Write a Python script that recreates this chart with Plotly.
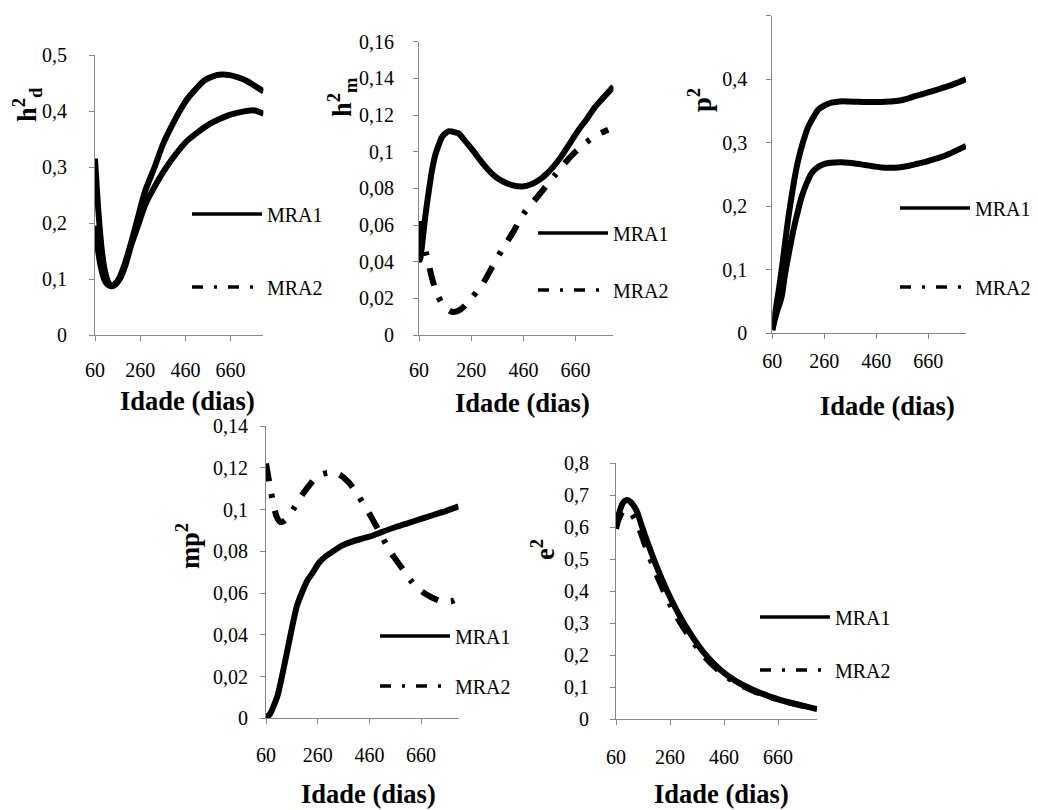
import plotly.graph_objects as go

W, H = 1038, 810
OFF = 8  # page body margin offset (px) compensated in the placement

# ---------------- data ----------------
x_ticks = [60, 260, 460, 660]
x_tick_text = ["60", "260", "460", "660"]

# Panel 1: h2d
h2d_mra1_x = [60, 72, 85, 100, 115, 130, 145, 165, 190, 220, 250, 280, 324, 360, 398, 435, 471, 508, 545, 582, 619, 656, 693, 730, 766, 806]
h2d_mra1_y = [0.195, 0.155, 0.123, 0.100, 0.090, 0.087, 0.090, 0.100, 0.125, 0.165, 0.210, 0.255, 0.300, 0.340, 0.372, 0.400, 0.423, 0.440, 0.455, 0.462, 0.465, 0.464, 0.460, 0.454, 0.445, 0.435]
h2d_mra2_x = [60, 70, 80, 92, 105, 120, 135, 150, 170, 195, 220, 250, 285, 324, 360, 398, 435, 471, 508, 545, 582, 619, 656, 693, 730, 766, 806]
h2d_mra2_y = [0.315, 0.250, 0.195, 0.145, 0.112, 0.093, 0.087, 0.090, 0.100, 0.125, 0.160, 0.195, 0.235, 0.265, 0.290, 0.3125, 0.332, 0.348, 0.360, 0.371, 0.380, 0.387, 0.393, 0.397, 0.400, 0.401, 0.395]

# Panel 2: h2m
h2m_mra1_x = [60, 62, 64, 70, 84, 97, 110, 122, 135, 148, 161, 174, 186, 199, 212, 230, 250, 270, 289, 320, 352, 384, 416, 455, 493, 520, 544, 576, 608, 640, 672, 704, 735, 767, 805]
h2m_mra1_y = [0.062, 0.045, 0.041, 0.047, 0.0645, 0.078, 0.090, 0.098, 0.1036, 0.108, 0.110, 0.1112, 0.111, 0.1105, 0.110, 0.107, 0.1036, 0.100, 0.0964, 0.091, 0.0864, 0.0836, 0.0818, 0.081, 0.0824, 0.0845, 0.0873, 0.092, 0.098, 0.105, 0.112, 0.118, 0.1245, 0.1295, 0.1355]
h2m_mra2_x = [60, 75, 90, 110, 130, 160, 190, 220, 260, 300, 340, 380, 420, 460, 500, 540, 580, 620, 660, 700, 740, 785]
h2m_mra2_y = [0.062, 0.051, 0.043, 0.031, 0.022, 0.015, 0.0125, 0.014, 0.020, 0.027, 0.037, 0.047, 0.056, 0.066, 0.073, 0.080, 0.087, 0.094, 0.100, 0.105, 0.109, 0.112]

# Panel 3: p2
p2_mra1_x = [60, 70, 83, 96, 109, 121, 134, 147, 160, 179, 198, 218, 237, 262, 288, 320, 352, 384, 416, 448, 480, 512, 545, 577, 609, 641, 673, 705, 737, 769, 805]
p2_mra1_y = [0.005, 0.030, 0.063, 0.100, 0.142, 0.180, 0.215, 0.247, 0.273, 0.302, 0.325, 0.340, 0.352, 0.359, 0.363, 0.365, 0.365, 0.3645, 0.364, 0.364, 0.364, 0.3648, 0.366, 0.369, 0.3735, 0.377, 0.381, 0.385, 0.389, 0.394, 0.400]
p2_mra2_x = [60, 75, 96, 108, 121, 134, 147, 160, 173, 192, 211, 230, 250, 275, 301, 326, 352, 384, 416, 448, 480, 512, 545, 577, 609, 641, 673, 705, 737, 769, 805]
p2_mra2_y = [0.005, 0.030, 0.058, 0.090, 0.120, 0.148, 0.173, 0.195, 0.215, 0.236, 0.252, 0.260, 0.265, 0.268, 0.269, 0.2692, 0.2686, 0.267, 0.265, 0.263, 0.261, 0.2605, 0.261, 0.263, 0.266, 0.269, 0.273, 0.277, 0.282, 0.288, 0.295]

# Panel 4: mp2
mp2_mra1_x = [60, 75, 90, 105, 120, 135, 150, 165, 180, 200, 220, 242, 265, 290, 320, 350, 390, 430, 460, 510, 560, 610, 660, 710, 760, 805]
mp2_mra1_y = [0.0003, 0.002, 0.006, 0.011, 0.019, 0.028, 0.037, 0.046, 0.054, 0.0605, 0.066, 0.070, 0.0745, 0.0775, 0.080, 0.0825, 0.0845, 0.086, 0.087, 0.0893, 0.0915, 0.0935, 0.0955, 0.0975, 0.0995, 0.1015]
mp2_mra2_x = [60, 70, 80, 90, 100, 115, 130, 150, 170, 200, 230, 260, 300, 340, 380, 420, 460, 500, 540, 580, 620, 660, 700, 740, 780, 795]
mp2_mra2_y = [0.122, 0.115, 0.108, 0.102, 0.097, 0.094, 0.0945, 0.097, 0.101, 0.107, 0.112, 0.116, 0.1175, 0.117, 0.113, 0.106, 0.098, 0.089, 0.080, 0.073, 0.066, 0.061, 0.058, 0.056, 0.0562, 0.057]

# Panel 5: e2
e2_mra1_x = [60, 70, 85, 100, 115, 137, 155, 174, 211, 248, 285, 322, 383, 445, 507, 569, 630, 692, 754, 805]
e2_mra1_y = [0.600, 0.640, 0.675, 0.685, 0.678, 0.650, 0.605, 0.559, 0.476, 0.403, 0.340, 0.285, 0.210, 0.155, 0.117, 0.091, 0.070, 0.054, 0.041, 0.031]
e2_mra2_x = [60, 70, 85, 100, 115, 137, 155, 174, 211, 248, 285, 322, 383, 445, 507, 569, 630, 692, 754, 805]
e2_mra2_y = [0.595, 0.625, 0.650, 0.655, 0.645, 0.615, 0.575, 0.530, 0.450, 0.380, 0.320, 0.270, 0.200, 0.148, 0.112, 0.088, 0.069, 0.054, 0.041, 0.031]

series_names = ["MRA1", "MRA2"]

panel_y_ticks = [
    [0, 0.1, 0.2, 0.3, 0.4, 0.5],
    [0, 0.02, 0.04, 0.06, 0.08, 0.1, 0.12, 0.14, 0.16],
    [0, 0.1, 0.2, 0.3, 0.4, 0.5],
    [0, 0.02, 0.04, 0.06, 0.08, 0.1, 0.12, 0.14],
    [0, 0.1, 0.2, 0.3, 0.4, 0.5, 0.6, 0.7, 0.8],
]
panel_y_text = [
    ["0", "0,1", "0,2", "0,3", "0,4", "0,5"],
    ["0", "0,02", "0,04", "0,06", "0,08", "0,1", "0,12", "0,14", "0,16"],
    ["0", "0,1", "0,2", "0,3", "0,4", "0,5"],
    ["0", "0,02", "0,04", "0,06", "0,08", "0,1", "0,12", "0,14"],
    ["0", "0,1", "0,2", "0,3", "0,4", "0,5", "0,6", "0,7", "0,8"],
]
y_titles = ["h<sup>2</sup><sub>d</sub>", "h<sup>2</sup><sub>m</sub>", "p<sup>2</sup>", "mp<sup>2</sup>", "e<sup>2</sup>"]
x_title = "Idade (dias)"

# ---------------- layout geometry (screen pixels) ----------------
X_MAX = 805
panels = [
    dict(x0=95, step=45.2, yb=335, yt=55, top=0.5),
    dict(x0=419, step=52.2, yb=335, yt=41.7, top=0.16),
    dict(x0=772.3, step=52.0, yb=333.3, yt=15.7, top=0.5),
    dict(x0=266, step=51.7, yb=718.3, yt=426, top=0.14),
    dict(x0=616, step=54.0, yb=719, yt=463.3, top=0.8),
]
y_standoff = [18, 15, 15, 8, 17]
x_standoff = [12, 12, 5, 14, 15]
ytitle_pos = [(27, 105), (342, 97), (700, 100), (188, 546), (543, 550)]
xtitle_pos = [(187, 401), (522, 403), (887, 406), (368, 794), (721, 794)]
legend_pos = [  # line start x, first item y, second item y
    (192, 214, 287),
    (538, 233, 290),
    (900, 208, 287),
    (380, 636, 686),
    (760, 617, 670),
]


def fx(px):
    return (px - OFF) / W


def fy(py):
    return 1 - (py - OFF) / H


FONT = "Liberation Serif"
AX_COLOR = "#868686"
DATA_W = 6
DATA_DASH = "18px,13px,4px,13px"
LEG_DASH = "11px,11px,3px,11px"

data = [
    (h2d_mra1_x, h2d_mra1_y, h2d_mra2_x, h2d_mra2_y, "solid"),
    (h2m_mra1_x, h2m_mra1_y, h2m_mra2_x, h2m_mra2_y, DATA_DASH),
    (p2_mra1_x, p2_mra1_y, p2_mra2_x, p2_mra2_y, "solid"),
    (mp2_mra1_x, mp2_mra1_y, mp2_mra2_x, mp2_mra2_y, DATA_DASH),
    (e2_mra1_x, e2_mra1_y, e2_mra2_x, e2_mra2_y, DATA_DASH),
]

fig = go.Figure()
layout = dict(
    width=W, height=H, autosize=False,
    margin=dict(l=0, r=0, t=0, b=0, pad=0, autoexpand=False),
    paper_bgcolor="white", plot_bgcolor="white",
    font=dict(family=FONT, size=20, color="black"),
    annotations=[],
)

for i, p in enumerate(panels):
    n = i + 1
    sx = "" if n == 1 else str(n)
    xname, yname = "x" + sx, "y" + sx
    x1 = p["x0"] + (X_MAX - 60) / 200 * p["step"]
    xdom = [fx(p["x0"]), fx(x1)]
    ydom = [fy(p["yb"]), fy(p["yt"])]
    common = dict(showline=True, linecolor=AX_COLOR, linewidth=1,
                  ticks="outside", ticklen=5, tickcolor=AX_COLOR, tickwidth=1,
                  showgrid=False, zeroline=False, fixedrange=True, automargin=False,
                  tickfont=dict(family=FONT, size=20, color="black"))
    layout["xaxis" + sx] = dict(domain=xdom, anchor=yname, range=[60, X_MAX],
                                tickvals=x_ticks, ticktext=x_tick_text,
                                ticklabelstandoff=x_standoff[i], **common)
    layout["yaxis" + sx] = dict(domain=ydom, anchor=xname, range=[0, p["top"]],
                                tickvals=panel_y_ticks[i], ticktext=panel_y_text[i],
                                ticklabelstandoff=y_standoff[i], **common)
    ax1, ay1, ax2, ay2, dash2 = data[i]
    leg = "legend" if n == 1 else "legend" + str(n)
    fig.add_trace(go.Scatter(x=ax2, y=ay2, mode="lines", xaxis=xname, yaxis=yname,
                             line=dict(color="black", width=DATA_W, dash=dash2, shape="spline", smoothing=0.8),
                             showlegend=False, hoverinfo="skip"))
    fig.add_trace(go.Scatter(x=ax1, y=ay1, mode="lines", xaxis=xname, yaxis=yname,
                             line=dict(color="black", width=DATA_W, shape="spline", smoothing=0.8),
                             showlegend=False, hoverinfo="skip"))
    for k, nm in enumerate(series_names):
        fig.add_trace(go.Scatter(x=[None], y=[None], mode="lines", xaxis=xname, yaxis=yname,
                                 name=nm, legend=leg, legendgroup=f"p{n}g{k}",
                                 line=dict(color="black", width=3.5,
                                           dash="solid" if k == 0 else LEG_DASH),
                                 showlegend=True))
    lx, ly1, ly2 = legend_pos[i]
    layout[leg] = dict(
        x=fx(lx - 5), y=fy(ly1 - 19.5), xanchor="left", yanchor="top",
        bgcolor="rgba(0,0,0,0)", borderwidth=0, itemwidth=70,
        traceorder="grouped", tracegroupgap=(ly2 - ly1) - 29,
        font=dict(family=FONT, size=20, color="black"),
        itemclick=False, itemdoubleclick=False,
    )
    tx, ty = ytitle_pos[i]
    layout["annotations"].append(dict(
        text="<b>" + y_titles[i] + "</b>", x=fx(tx), y=fy(ty), xref="paper", yref="paper",
        textangle=-90, showarrow=False, xanchor="center", yanchor="middle",
        font=dict(family=FONT, size=26.5, color="black")))
    tx, ty = xtitle_pos[i]
    layout["annotations"].append(dict(
        text="<b>" + x_title + "</b>", x=fx(tx), y=fy(ty), xref="paper", yref="paper",
        showarrow=False, xanchor="center", yanchor="middle",
        font=dict(family=FONT, size=26.5, color="black")))

fig.update_layout(**layout)
fig.write_html("out.html")
